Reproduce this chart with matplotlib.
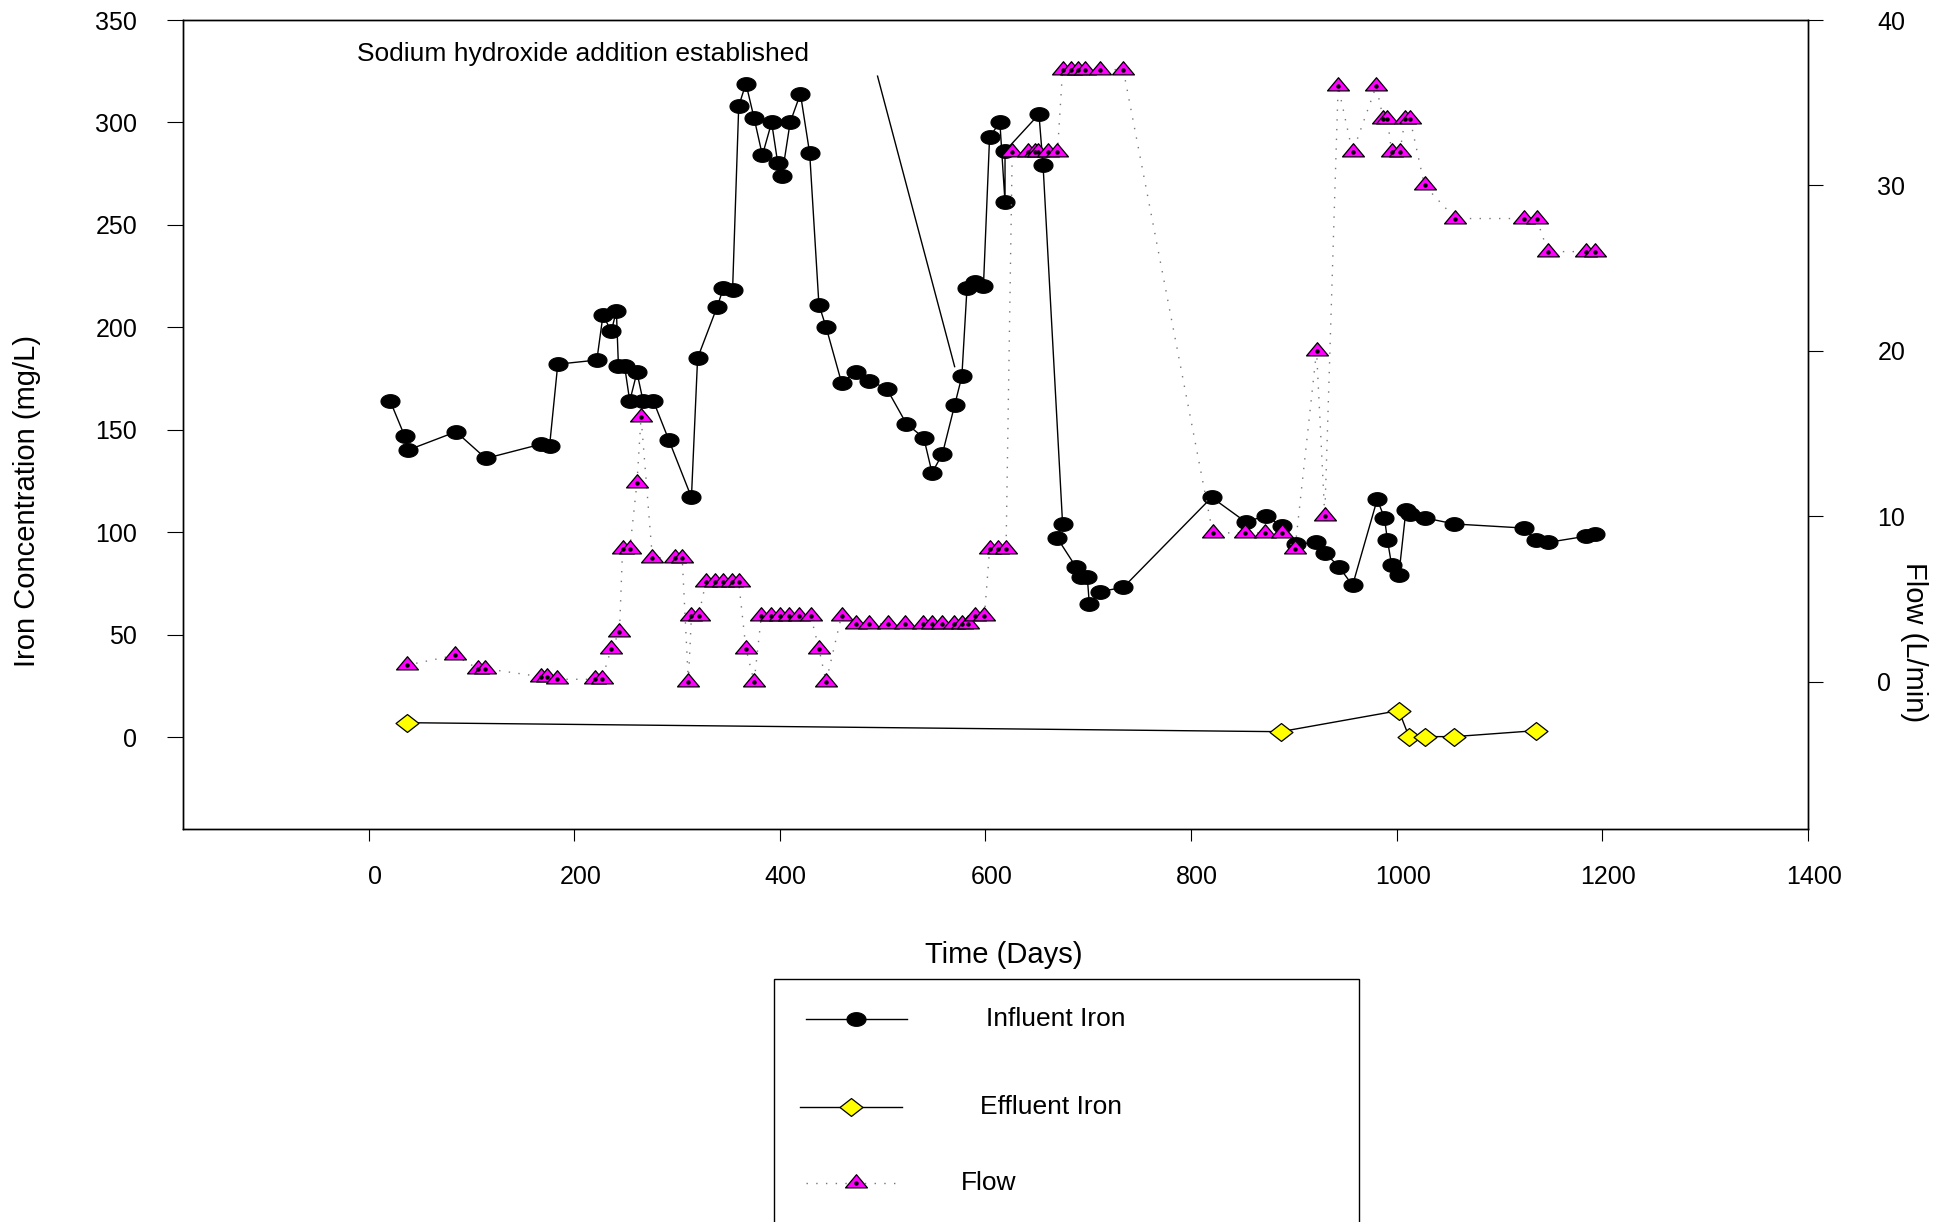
import numpy as np
import matplotlib
matplotlib.use("Agg")
import matplotlib.pyplot as plt
from matplotlib.path import Path
from matplotlib.lines import Line2D
from matplotlib.patches import Rectangle
from matplotlib.transforms import ScaledTranslation

plt.rcParams['font.family'] = ['Liberation Sans', 'DejaVu Sans']

# influent iron (mg/L), plotted in recorded order
influent_day = [21, 35, 38, 85, 114, 168, 176, 184, 222, 228, 236, 241, 243, 249,
                254, 261, 267, 277, 292, 314, 320, 339, 345, 354, 360, 367, 375,
                383, 392, 398, 402, 410, 420, 429, 438, 445, 460, 474, 487, 504,
                523, 540, 548, 558, 570, 577, 582, 590, 598, 604, 614, 619, 619,
                652, 656, 675, 670, 688, 693, 699, 701, 711, 734, 820, 853, 873,
                888, 902, 921, 930, 944, 957, 981, 988, 991, 995, 1002, 1009,
                1013, 1027, 1056, 1124, 1135, 1147, 1184, 1193]
influent_fe = [164, 147, 140, 149, 136, 143, 142, 182, 184, 206, 198, 208, 181, 181,
               164, 178, 164, 164, 145, 117, 185, 210, 219, 218, 308, 319, 302,
               284, 300, 280, 274, 300, 314, 285, 211, 200, 173, 178, 174, 170,
               153, 146, 129, 138, 162, 176, 219, 222, 220, 293, 300, 261, 286,
               304, 279, 104, 97, 83, 78, 78, 65, 71, 73, 117, 105, 108,
               103, 94, 95, 90, 83, 74, 116, 107, 96, 84, 79, 111,
               109, 107, 104, 102, 96, 95, 98, 99]

# effluent iron (mg/L)
effluent_day = [37, 887, 1002, 1012, 1027, 1056, 1135]
effluent_fe = [7, 2.6, 12.9, 0, 0.2, 0.2, 3.1]

# flow (L/min), right axis
flow_day = [37, 84, 106, 113, 168, 174, 183, 220, 227, 236, 244, 247, 254, 261,
            265, 276, 298, 305, 311, 314, 321, 328, 337, 345, 353, 360, 367,
            375, 382, 391, 400, 409, 419, 430, 438, 445, 460, 474, 487, 505,
            522, 539, 548, 558, 569, 577, 583, 590, 599, 604, 612, 620, 626,
            641, 648, 651, 661, 670, 675, 683, 690, 697, 711, 734, 821, 852,
            872, 888, 901, 922, 930, 943, 957, 980, 987, 991, 995, 1003,
            1008, 1013, 1027, 1057, 1124, 1136, 1147, 1184, 1193]
flow_lpm = [1, 1.6, 0.8, 0.8, 0.3, 0.3, 0.15, 0.15, 0.15, 2, 3, 8, 8, 12,
            16, 7.5, 7.5, 7.5, 0, 4, 4, 6, 6, 6, 6, 6, 2,
            0, 4, 4, 4, 4, 4, 4, 2, 0, 4, 3.5, 3.5, 3.5,
            3.5, 3.5, 3.5, 3.5, 3.5, 3.5, 3.5, 4, 4, 8, 8, 8, 32,
            32, 32, 32, 32, 32, 37, 37, 37, 37, 37, 37, 9, 9,
            9, 9, 8, 20, 10, 36, 32, 36, 34, 34, 32, 32,
            34, 34, 30, 28, 28, 28, 26, 26, 26]

left_ticks = [0, 50, 100, 150, 200, 250, 300, 350]
right_ticks = [0, 10, 20, 30, 40]
x_ticks = [0, 200, 400, 600, 800, 1000, 1200, 1400]

note_text = "Sodium hydroxide addition established"
note_xy = (-11, 330)
note_line_x = [495, 570]
note_line_y = [322.6, 180.8]

# marker shapes
t = np.linspace(0, 2 * np.pi, 60)
ellipse = Path(np.column_stack([np.cos(t), 0.72 * np.sin(t)]))
tri = Path([(0, 0.4), (-0.5, -0.2), (0.5, -0.2), (0, 0.4)],
           [Path.MOVETO, Path.LINETO, Path.LINETO, Path.CLOSEPOLY])
diamond = Path([(0.5, 0), (0, 0.39), (-0.5, 0), (0, -0.39), (0.5, 0)],
               [Path.MOVETO, Path.LINETO, Path.LINETO, Path.LINETO, Path.CLOSEPOLY])

inf_style = dict(color='black', lw=1.0, marker=ellipse, ms=13.7,
                 mfc='black', mec='black', mew=0.8)
eff_style = dict(color='black', lw=1.0, marker=diamond, ms=16.5,
                 mfc='#FFFF00', mec='black', mew=0.9)
flow_style = dict(color='#777777', lw=1.0, linestyle=(0, (1, 6)), marker=tri,
                  ms=15.8, mfc='#FF00FF', mec='black', mew=0.9)

fig = plt.figure(figsize=(19.49, 12.22), dpi=100)
ax = fig.add_axes([0.09364, 0.32160, 0.83402, 0.66203])
ax2 = ax.twinx()

ax.plot(influent_day, influent_fe, **inf_style)
ax.plot(effluent_day, effluent_fe, **eff_style)
ax.plot(note_line_x, note_line_y, color='black', lw=1.0)
ax.text(note_xy[0], note_xy[1], note_text, fontsize=19, ha='left', va='baseline')

ax2.plot(flow_day, flow_lpm, **flow_style)
ax2.plot(flow_day, flow_lpm, linestyle='none', marker='o', ms=2.2,
         color='black')

ax.set_xlim(-181, 1400)
ax.set_ylim(-44.9, 350)
ax2.set_ylim(-8.9, 40)

ax.set_xticks(x_ticks)
ax.set_yticks(left_ticks)
ax2.set_yticks(right_ticks)

ax.tick_params(axis='y', direction='out', length=11.5, width=0.8,
               labelsize=18, pad=21)
ax.tick_params(axis='x', direction='out', length=8.6, width=0.8,
               labelsize=18, pad=17)
ax2.tick_params(axis='y', direction='out', length=11, width=0.8,
                labelsize=18, pad=39)
for lab in ax.get_xticklabels():
    lab.set_transform(lab.get_transform() +
                      ScaledTranslation(6 / 100, 0, fig.dpi_scale_trans))

for a in (ax, ax2):
    for s in a.spines.values():
        s.set_linewidth(1.0)

W, H = 1949.0, 1222.0
fig.text(27 / W, 1 - 501 / H, "Iron Concentration (mg/L)", rotation=90,
         fontsize=21, ha='center', va='center')
fig.text(1914 / W, 1 - 642 / H, "Flow (L/min)", rotation=270,
         fontsize=21, ha='center', va='center')
fig.text(1004 / W, 1 - 955 / H, "Time (Days)", fontsize=21,
         ha='center', va='center')

# legend box (runs past the bottom edge of the figure)
fig.patches.append(Rectangle((773.8 / W, -0.1), (1358.9 - 773.8) / W,
                             (1 - 979 / H) + 0.1, transform=fig.transFigure,
                             fill=False, edgecolor='black', lw=1.0))

legend_rows = [
    ("Influent Iron", inf_style, 805.6, 907, 856.5, 1019.3, 985.7),
    ("Effluent Iron", eff_style, 799.7, 902, 851.3, 1107.3, 979.7),
    ("Flow", flow_style, 805.6, 900.2, 856.5, 1182.7, 960.6),
]
for label, style, x0, x1, xm, yy, xt in legend_rows:
    line_kw = {k: v for k, v in style.items() if not k.startswith('m')}
    mark_kw = {k: v for k, v in style.items() if k.startswith('m')}
    fig.lines.append(Line2D([x0 / W, x1 / W], [1 - yy / H, 1 - yy / H],
                            transform=fig.transFigure, **line_kw))
    fig.lines.append(Line2D([xm / W], [1 - yy / H], transform=fig.transFigure,
                            linestyle='none', **mark_kw))
    if label == "Flow":
        fig.lines.append(Line2D([xm / W], [1 - yy / H], transform=fig.transFigure,
                                linestyle='none', marker='o', ms=2.2,
                                color='black'))
    fig.text(xt / W, 1 - yy / H, label, fontsize=19, ha='left', va='center')

fig.savefig("out.png", dpi=100)
